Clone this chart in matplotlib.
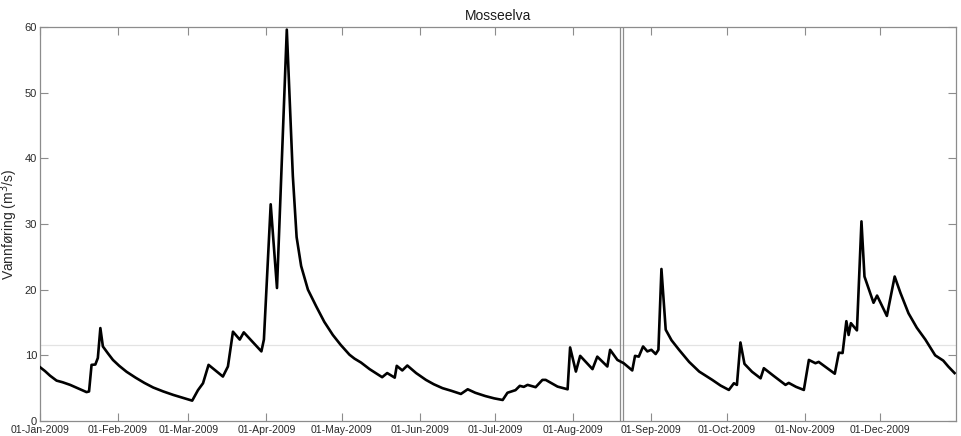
import matplotlib
matplotlib.use('Agg')
import matplotlib.pyplot as plt
import matplotlib.dates as mdates
import pandas as pd

plt.rcParams['font.family'] = ['Liberation Sans', 'DejaVu Sans']

# days after 01-Jan-2009 and discharge (m3/s)
days = [0, 2, 4, 6.6, 9, 12, 15, 18.5, 19.5, 20.5, 22, 23, 24, 25, 27, 29,
        31.5, 34.4, 38, 41.5, 45, 49, 53, 57, 60.5,
        62.8, 64.8, 67, 72.7, 74.7, 76.7, 79.4, 81, 88, 89, 91.7, 94.2, 98.1,
        100.5, 102, 103.8, 106.5, 109.8, 113, 116.4, 119.5, 123, 125, 127.6,
        131, 136, 138, 141, 141.8, 144, 146, 149.5, 153.4, 156.5, 160, 163.5,
        167.3, 170, 173, 177, 180.5, 183.9, 185.8, 189, 190.7, 192.3,
        193.8, 197, 199.7, 201, 205.7, 209.7, 210.7, 213, 214.7, 219.6, 221.5,
        225.5, 226.6, 229.5, 232, 235.4, 236.5, 238, 239.7, 241.4, 243, 244.7,
        245.8, 247, 248.7, 251, 254, 258, 262, 267.2, 270.5, 273.8, 275.8, 277,
        278.4, 280, 283, 286.4, 287.7, 291.5, 296.3, 297.6, 300.5, 303.6,
        305.6, 308.2, 309.5, 315.9, 317.5,
        319, 320.5, 321.4, 322.3, 324.7, 326.5, 327.7, 331.3, 332.7, 336.6,
        339.7, 342, 345.2, 348.5, 351.9, 355.8, 359, 361, 363.5]
flow = [8.2, 7.6, 6.9, 6.15, 5.9, 5.5, 5.0, 4.4, 4.5, 8.55, 8.6, 9.6, 14.15,
        11.35, 10.3, 9.3, 8.4, 7.5, 6.6, 5.8, 5.1, 4.5, 3.97, 3.5, 3.1,
        4.7, 5.75, 8.55, 6.77, 8.3, 13.6, 12.4, 13.5, 10.6, 12.4,
        33.0, 20.25, 59.6, 37.3, 28.0, 23.6, 20.0, 17.45, 15.1, 13.1, 11.6,
        10.1, 9.5, 8.9, 7.9, 6.67, 7.3, 6.6, 8.4, 7.7, 8.45, 7.3, 6.26, 5.6,
        5.0, 4.6, 4.12, 4.83, 4.3, 3.8, 3.45, 3.2, 4.3, 4.7, 5.35,
        5.2, 5.5, 5.15, 6.26, 6.26, 5.24, 4.83, 11.2, 7.53, 9.92, 7.9, 9.8,
        8.3, 10.84, 9.3, 8.8, 7.7, 9.92, 9.8, 11.35, 10.6, 10.84, 10.2, 10.84,
        23.15, 13.9, 12.3, 10.84, 9.0, 7.53, 6.26, 5.4, 4.73, 5.75, 5.5,
        11.96, 8.7, 7.5, 6.5, 8.04, 6.9, 5.5, 5.8, 5.2, 4.73,
        9.3, 8.8, 9.0, 7.2, 10.4, 10.35, 15.2, 13.1, 14.9,
        13.8, 30.4, 22.0, 18.0, 19.1, 16.0, 22.0, 19.5, 16.4, 14.2, 12.4,
        10.0, 9.2, 8.3, 7.3]

mean_flow = 11.5
marker_days = [230.4, 231.8]

start = pd.Timestamp('2009-01-01')
dates = start + pd.to_timedelta(days, unit='D')

fig = plt.figure(figsize=(9.61, 4.36), dpi=100)
ax = fig.add_axes([0.0416, 0.0344, 0.953, 0.9037])

ax.axhline(mean_flow, color='#e3e3e3', lw=0.9, zorder=1)
for d in marker_days:
    ax.axvline(start + pd.Timedelta(days=d), color='#8c8c8c', lw=0.9, zorder=2)
ax.plot(dates, flow, color='black', lw=1.9, zorder=3)

ax.set_xlim(start, pd.Timestamp('2009-12-31'))
ax.set_ylim(0, 60)
ax.set_yticks(range(0, 61, 10))
ax.xaxis.set_major_locator(mdates.MonthLocator())
ax.xaxis.set_major_formatter(mdates.DateFormatter('%d-%b-%Y'))

for s in ax.spines.values():
    s.set_color('#8c8c8c')
    s.set_linewidth(0.9)
ax.tick_params(direction='in', length=6, width=0.8, color='#8c8c8c',
               top=True, right=True, labelcolor='#2a2a2a')
ax.tick_params(axis='x', labelsize=7.6, pad=3)
ax.tick_params(axis='y', labelsize=8, pad=2)

ax.set_title('Mosseelva', fontsize=10, pad=5, color='#1a1a1a')
ax.set_ylabel('Vannføring (m$^3$/s)', fontsize=10, color='#2a2a2a')
ax.yaxis.set_label_coords(-0.022, 0.5)

plt.savefig('out.png', dpi=100)
plt.close()
